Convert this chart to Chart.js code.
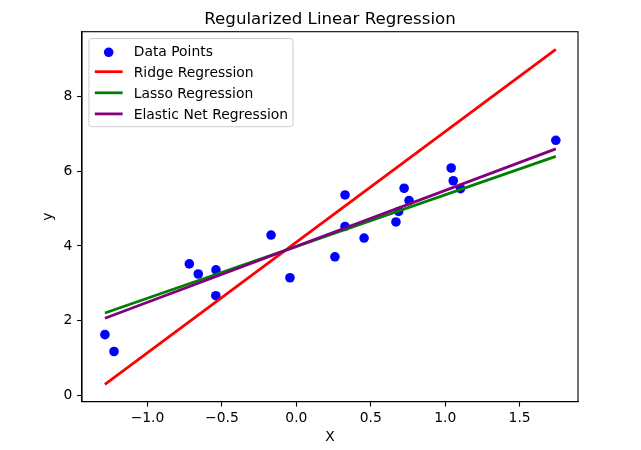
<!DOCTYPE html>
<html>
<head>
<meta charset="utf-8">
<script src="https://cdn.jsdelivr.net/npm/chart.js@4.4.1/dist/chart.umd.min.js"></script>
<style>
  html, body { margin: 0; padding: 0; background: #ffffff; }
  #wrap { width: 641px; height: 450px; }
</style>
</head>
<body>
<div id="wrap"><canvas id="c" width="641" height="450"></canvas></div>
<script>
// ---- data ----
const pointsX = [-1.286, -1.225, -0.719, -0.659, -0.540, -0.541, -0.170, -0.043, 0.259, 0.327,
                 0.327, 0.455, 0.669, 0.687, 0.724, 0.757, 1.040, 1.054, 1.103, 1.743];
const pointsY = [1.63, 1.18, 3.52, 3.25, 3.36, 2.67, 4.29, 3.15, 3.71, 5.36,
                 4.52, 4.21, 4.64, 4.92, 5.54, 5.21, 6.08, 5.74, 5.53, 6.82];
const lineX    = [-1.286, 1.743];
const ridgeY   = [0.30, 9.25];
const lassoY   = [2.21, 6.39];
const elasticY = [2.07, 6.59];
const xTicks = [-1.0, -0.5, 0.0, 0.5, 1.0, 1.5];
const yTicks = [0, 2, 4, 6, 8];
const titleText = 'Regularized Linear Regression';
const xLabel = 'X';
const yLabel = 'y';
const seriesLabels = ['Data Points', 'Ridge Regression', 'Lasso Regression', 'Elastic Net Regression'];

const toXY = (xs, ys) => xs.map((x, i) => ({x: x, y: ys[i]}));
const FONT = 'DejaVu Sans';
const FS = 13.89;

Chart.defaults.font.family = FONT;
Chart.defaults.color = '#000000';

const fmtX = v => (v < 0 ? '\u2212' : '') + Math.abs(v).toFixed(1);
const fmtY = v => (v < 0 ? '\u2212' : '') + Math.abs(v).toFixed(0);

const mplPlugin = {
  id: 'mplDecor',
  afterDatasetsDraw(chart) {
    const ctx = chart.ctx;
    const a = chart.chartArea;
    ctx.save();
    // spines
    ctx.strokeStyle = '#000000';
    ctx.lineWidth = 1.1;
    ctx.strokeRect(a.left, a.top, a.right - a.left, a.bottom - a.top);

    // title
    ctx.fillStyle = '#000000';
    ctx.font = '16.67px "' + FONT + '"';
    ctx.textAlign = 'center';
    ctx.textBaseline = 'alphabetic';
    ctx.fillText(titleText, (a.left + a.right) / 2, 23.7);

    // legend
    const ds = chart.data.datasets;
    ctx.font = FS + 'px "' + FONT + '"';
    const bx = a.left + 6.9, by = a.top + 6.9;
    const hx0 = bx + 5.9, hlen = 27.8;
    const textX = hx0 + hlen + 11.1;
    let maxW = 0;
    ds.forEach(d => { maxW = Math.max(maxW, ctx.measureText(d.label).width); });
    const bw = textX - bx + maxW + 5.0;
    const bh = 88.1;
    const r = 2.8;
    ctx.beginPath();
    ctx.moveTo(bx + r, by);
    ctx.lineTo(bx + bw - r, by);
    ctx.arcTo(bx + bw, by, bx + bw, by + r, r);
    ctx.lineTo(bx + bw, by + bh - r);
    ctx.arcTo(bx + bw, by + bh, bx + bw - r, by + bh, r);
    ctx.lineTo(bx + r, by + bh);
    ctx.arcTo(bx, by + bh, bx, by + bh - r, r);
    ctx.lineTo(bx, by + r);
    ctx.arcTo(bx, by, bx + r, by, r);
    ctx.closePath();
    ctx.fillStyle = 'rgba(255,255,255,0.8)';
    ctx.fill();
    ctx.strokeStyle = '#cccccc';
    ctx.lineWidth = 1;
    ctx.stroke();

    const rowH = 21.1;
    ds.forEach((d, i) => {
      const base = by + 17.1 + i * rowH;
      if (d.showLine) {
        ctx.strokeStyle = d.borderColor;
        ctx.lineWidth = d.borderWidth;
        ctx.lineCap = 'butt';
        ctx.beginPath();
        ctx.moveTo(hx0, base - 5.1);
        ctx.lineTo(hx0 + hlen, base - 5.1);
        ctx.stroke();
      } else {
        ctx.fillStyle = d.backgroundColor;
        ctx.beginPath();
        ctx.arc(hx0 + hlen / 2, base - 3.4, d.pointRadius, 0, Math.PI * 2);
        ctx.fill();
      }
      ctx.fillStyle = '#000000';
      ctx.textAlign = 'left';
      ctx.textBaseline = 'alphabetic';
      ctx.fillText(d.label, textX, base);
    });
    ctx.restore();
  }
};

new Chart(document.getElementById('c'), {
  type: 'scatter',
  data: {
    datasets: [
      { label: seriesLabels[0], data: toXY(pointsX, pointsY), backgroundColor: '#0000ff',
        borderWidth: 0, pointRadius: 4.8, pointHoverRadius: 4.8, order: 4 },
      { label: seriesLabels[1], data: toXY(lineX, ridgeY), showLine: true, borderColor: '#ff0000',
        backgroundColor: '#ff0000', borderWidth: 2.78, pointRadius: 0, fill: false, order: 3 },
      { label: seriesLabels[2], data: toXY(lineX, lassoY), showLine: true, borderColor: '#008000',
        backgroundColor: '#008000', borderWidth: 2.78, pointRadius: 0, fill: false, order: 2 },
      { label: seriesLabels[3], data: toXY(lineX, elasticY), showLine: true, borderColor: '#800080',
        backgroundColor: '#800080', borderWidth: 2.78, pointRadius: 0, fill: false, order: 1 }
    ]
  },
  options: {
    responsive: false,
    animation: false,
    devicePixelRatio: 1,
    layout: { padding: { left: 0, right: 63, top: 31.7, bottom: 0 } },
    plugins: {
      legend: { display: false },
      title: { display: false },
      tooltip: { enabled: false }
    },
    scales: {
      x: {
        type: 'linear',
        position: 'bottom',
        min: -1.44,
        max: 1.892,
        afterBuildTicks: s => { s.ticks = xTicks.map(v => ({value: v})); },
        afterFit: s => { s.height = 48.3; },
        ticks: { callback: v => fmtX(v), font: { size: FS }, color: '#000000', padding: 3.8, maxRotation: 0, autoSkip: false },
        grid: { display: true, drawOnChartArea: false, drawTicks: true, tickLength: 4.86, tickWidth: 1.1, tickColor: '#000000' },
        border: { display: true, color: '#000000', width: 1.1 },
        title: { display: true, text: xLabel, font: { size: FS }, color: '#000000', padding: { top: 0, bottom: 4.1 } }
      },
      y: {
        type: 'linear',
        position: 'left',
        min: -0.16,
        max: 9.72,
        afterBuildTicks: s => { s.ticks = yTicks.map(v => ({value: v})); },
        afterFit: s => { s.width = 82; },
        ticks: { callback: v => fmtY(v), font: { size: FS }, color: '#000000', padding: 4.86, autoSkip: false },
        grid: { display: true, drawOnChartArea: false, drawTicks: true, tickLength: 4.86, tickWidth: 1.1, tickColor: '#000000' },
        border: { display: true, color: '#000000', width: 1.1 },
        title: { display: true, text: yLabel, font: { size: FS }, color: '#000000', padding: { top: 40.4, bottom: 0 } }
      }
    }
  },
  plugins: [mplPlugin]
});
</script>
</body>
</html>
